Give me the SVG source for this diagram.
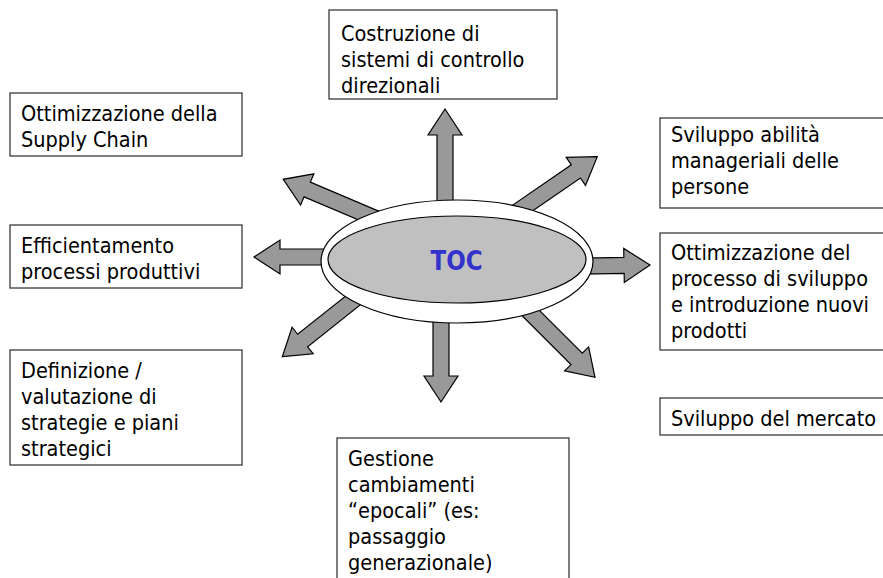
<svg xmlns="http://www.w3.org/2000/svg" width="883" height="578" viewBox="0 0 883 578">
<style>
.box{fill:#fff;stroke:#3a3a3a;stroke-width:1.3}
.t{font-family:"DejaVu Sans Condensed","DejaVu Sans",sans-serif;font-size:21.5px;fill:#000}
.arr{fill:#999;stroke:#000;stroke-width:1.2;stroke-linejoin:miter}
</style>
<defs>
<polygon id="arrow" points="0,0 -26,-17 -26,-8 -120,-8 -120,8 -26,8 -26,17"/>
</defs>
<rect width="883" height="578" fill="#fff"/>
<g id="connectors">
<use href="#arrow" class="arr" transform="translate(445,109) rotate(-90)"/>
<use href="#arrow" class="arr" transform="translate(441,402) rotate(90)"/>
<use href="#arrow" class="arr" transform="translate(254,257) rotate(180)"/>
<use href="#arrow" class="arr" transform="translate(650,265) rotate(-1)"/>
<use href="#arrow" class="arr" transform="translate(283.3,179.3) rotate(203)"/>
<use href="#arrow" class="arr" transform="translate(597.3,156.7) rotate(-34.5)"/>
<use href="#arrow" class="arr" transform="translate(282.3,356.7) rotate(141.5)"/>
<use href="#arrow" class="arr" transform="translate(595,377.3) rotate(45)"/>
</g>
<g id="toc">
<ellipse cx="457" cy="261.5" rx="136" ry="61.5" fill="#fff" stroke="#000" stroke-width="1.2"/>
<ellipse cx="457" cy="259.5" rx="129" ry="43.5" fill="#c0c0c0" stroke="#000" stroke-width="1.2"/>
<text x="456.5" y="270" text-anchor="middle" font-family="'DejaVu Sans Condensed','DejaVu Sans',sans-serif" font-size="27" font-weight="bold" fill="#3333cc" textLength="52" lengthAdjust="spacingAndGlyphs">TOC</text>
</g>
<g id="n-costruzione">
<rect class="box" x="329" y="10" width="228" height="89"/>
<text class="t" x="341"><tspan y="41">Costruzione di</tspan><tspan x="341" y="67">sistemi di controllo</tspan><tspan x="341" y="93">direzionali</tspan></text>
</g>
<g id="n-supply">
<rect class="box" x="10" y="93" width="232" height="63"/>
<text class="t" x="21"><tspan y="121">Ottimizzazione della</tspan><tspan x="21" y="147">Supply Chain</tspan></text>
</g>
<g id="n-efficientamento">
<rect class="box" x="10" y="225" width="232" height="63"/>
<text class="t" x="21"><tspan y="253">Efficientamento</tspan><tspan x="21" y="279">processi produttivi</tspan></text>
</g>
<g id="n-definizione">
<rect class="box" x="10" y="350" width="232" height="115"/>
<text class="t" x="21"><tspan y="378">Definizione /</tspan><tspan x="21" y="404">valutazione di</tspan><tspan x="21" y="430">strategie e piani</tspan><tspan x="21" y="456">strategici</tspan></text>
</g>
<g id="n-abilita">
<rect class="box" x="660" y="118" width="240" height="90"/>
<text class="t" x="671"><tspan y="142">Sviluppo abilità</tspan><tspan x="671" y="168">manageriali delle</tspan><tspan x="671" y="194">persone</tspan></text>
</g>
<g id="n-prodotti">
<rect class="box" x="660" y="233" width="240" height="117"/>
<text class="t" x="671"><tspan y="260">Ottimizzazione del</tspan><tspan x="671" y="286">processo di sviluppo</tspan><tspan x="671" y="312">e introduzione nuovi</tspan><tspan x="671" y="338">prodotti</tspan></text>
</g>
<g id="n-mercato">
<rect class="box" x="660" y="398" width="240" height="37"/>
<text class="t" x="671" y="426">Sviluppo del mercato</text>
</g>
<g id="n-gestione">
<rect class="box" x="337" y="438" width="232" height="160"/>
<text class="t" x="348"><tspan y="466">Gestione</tspan><tspan x="348" y="492">cambiamenti</tspan><tspan x="348" y="518">“epocali” (es:</tspan><tspan x="348" y="544">passaggio</tspan><tspan x="348" y="570">generazionale)</tspan></text>
</g>
</svg>
